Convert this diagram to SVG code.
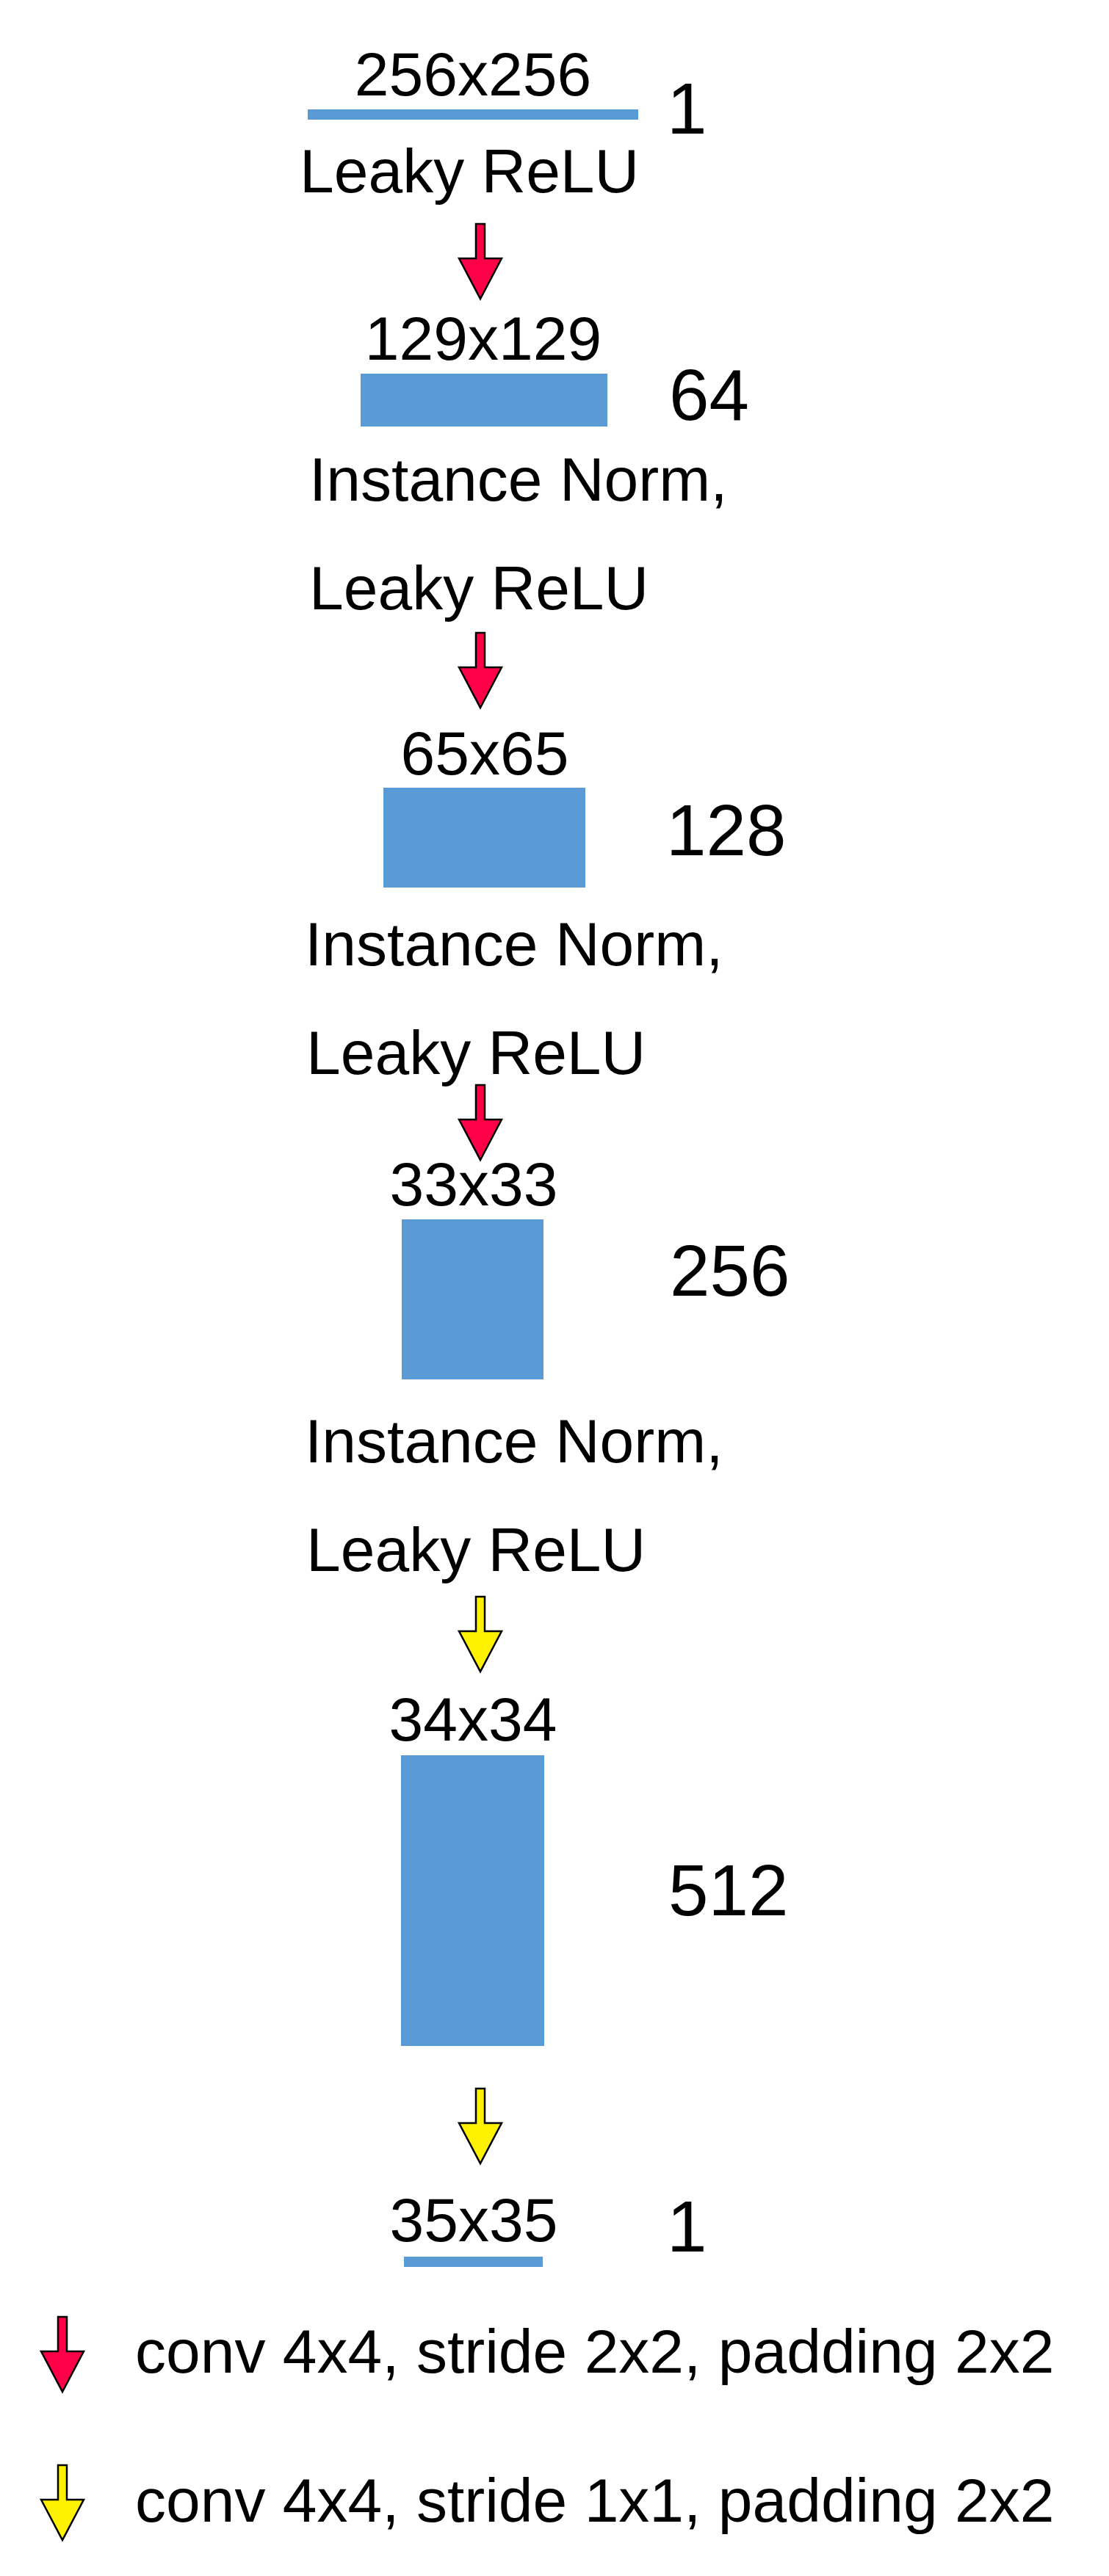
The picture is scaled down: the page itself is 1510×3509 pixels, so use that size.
<svg xmlns="http://www.w3.org/2000/svg" xmlns:xlink="http://www.w3.org/1999/xlink" width="1510" height="3509" viewBox="0 0 1510 3509">
<style>
text{font-family:"Liberation Sans",Arial,Helvetica,sans-serif;fill:#000}
.t{font-size:84px}
.c{font-size:98px}
.m{text-anchor:middle}
.blk{fill:#5B9BD5}
.red{fill:#FF0048;stroke:#000;stroke-width:2.5;stroke-linejoin:miter}
.yel{fill:#FFF200;stroke:#000;stroke-width:2.5;stroke-linejoin:miter}
</style>
<defs>
<path id="arr" d="M -6 0 H 6 V 47 H 29 L 0 102 L -29 47 H -6 Z"/>
</defs>
<rect width="1510" height="3509" fill="#fff"/>

<g id="layer-input">
<text class="t m" x="644" y="130">256x256</text>
<rect class="blk" x="419" y="149" width="450" height="14"/>
<text class="c" x="908" y="182">1</text>
<text class="t" x="408" y="262">Leaky ReLU</text>
</g>

<g id="layer-1">
<text class="t m" x="658" y="490">129x129</text>
<rect class="blk" x="491" y="509" width="336" height="72"/>
<text class="c" x="911" y="572">64</text>
<text class="t" x="421" y="682">Instance Norm,</text>
<text class="t" x="421" y="830">Leaky ReLU</text>
</g>

<g id="layer-2">
<text class="t m" x="660" y="1055">65x65</text>
<rect class="blk" x="522" y="1073" width="275" height="136"/>
<text class="c" x="907" y="1165">128</text>
<text class="t" x="415" y="1315">Instance Norm,</text>
<text class="t" x="417" y="1463">Leaky ReLU</text>
</g>

<g id="layer-3">
<text class="t m" x="645" y="1642">33x33</text>
<rect class="blk" x="547" y="1661" width="193" height="218"/>
<text class="c" x="912" y="1765">256</text>
<text class="t" x="415" y="1992">Instance Norm,</text>
<text class="t" x="417" y="2140">Leaky ReLU</text>
</g>

<g id="layer-4">
<text class="t m" x="644" y="2371">34x34</text>
<rect class="blk" x="546" y="2391" width="195" height="396"/>
<text class="c" x="910" y="2609">512</text>
</g>

<g id="layer-output">
<text class="t m" x="645" y="3053">35x35</text>
<rect class="blk" x="550" y="3074" width="189" height="14"/>
<text class="c" x="908" y="3067">1</text>
</g>

<g id="connectors">
<use xlink:href="#arr" class="red" transform="translate(654,305)"/>
<use xlink:href="#arr" class="red" transform="translate(654,862)"/>
<use xlink:href="#arr" class="red" transform="translate(654,1478)"/>
<use xlink:href="#arr" class="yel" transform="translate(654,2175)"/>
<use xlink:href="#arr" class="yel" transform="translate(654,2845)"/>
</g>

<g id="legend">
<use xlink:href="#arr" class="red" transform="translate(85,3156)"/>
<text class="t" x="184" y="3232">conv 4x4, stride 2x2, padding 2x2</text>
<use xlink:href="#arr" class="yel" transform="translate(85,3358)"/>
<text class="t" x="184" y="3435">conv 4x4, stride 1x1, padding 2x2</text>
</g>
</svg>
